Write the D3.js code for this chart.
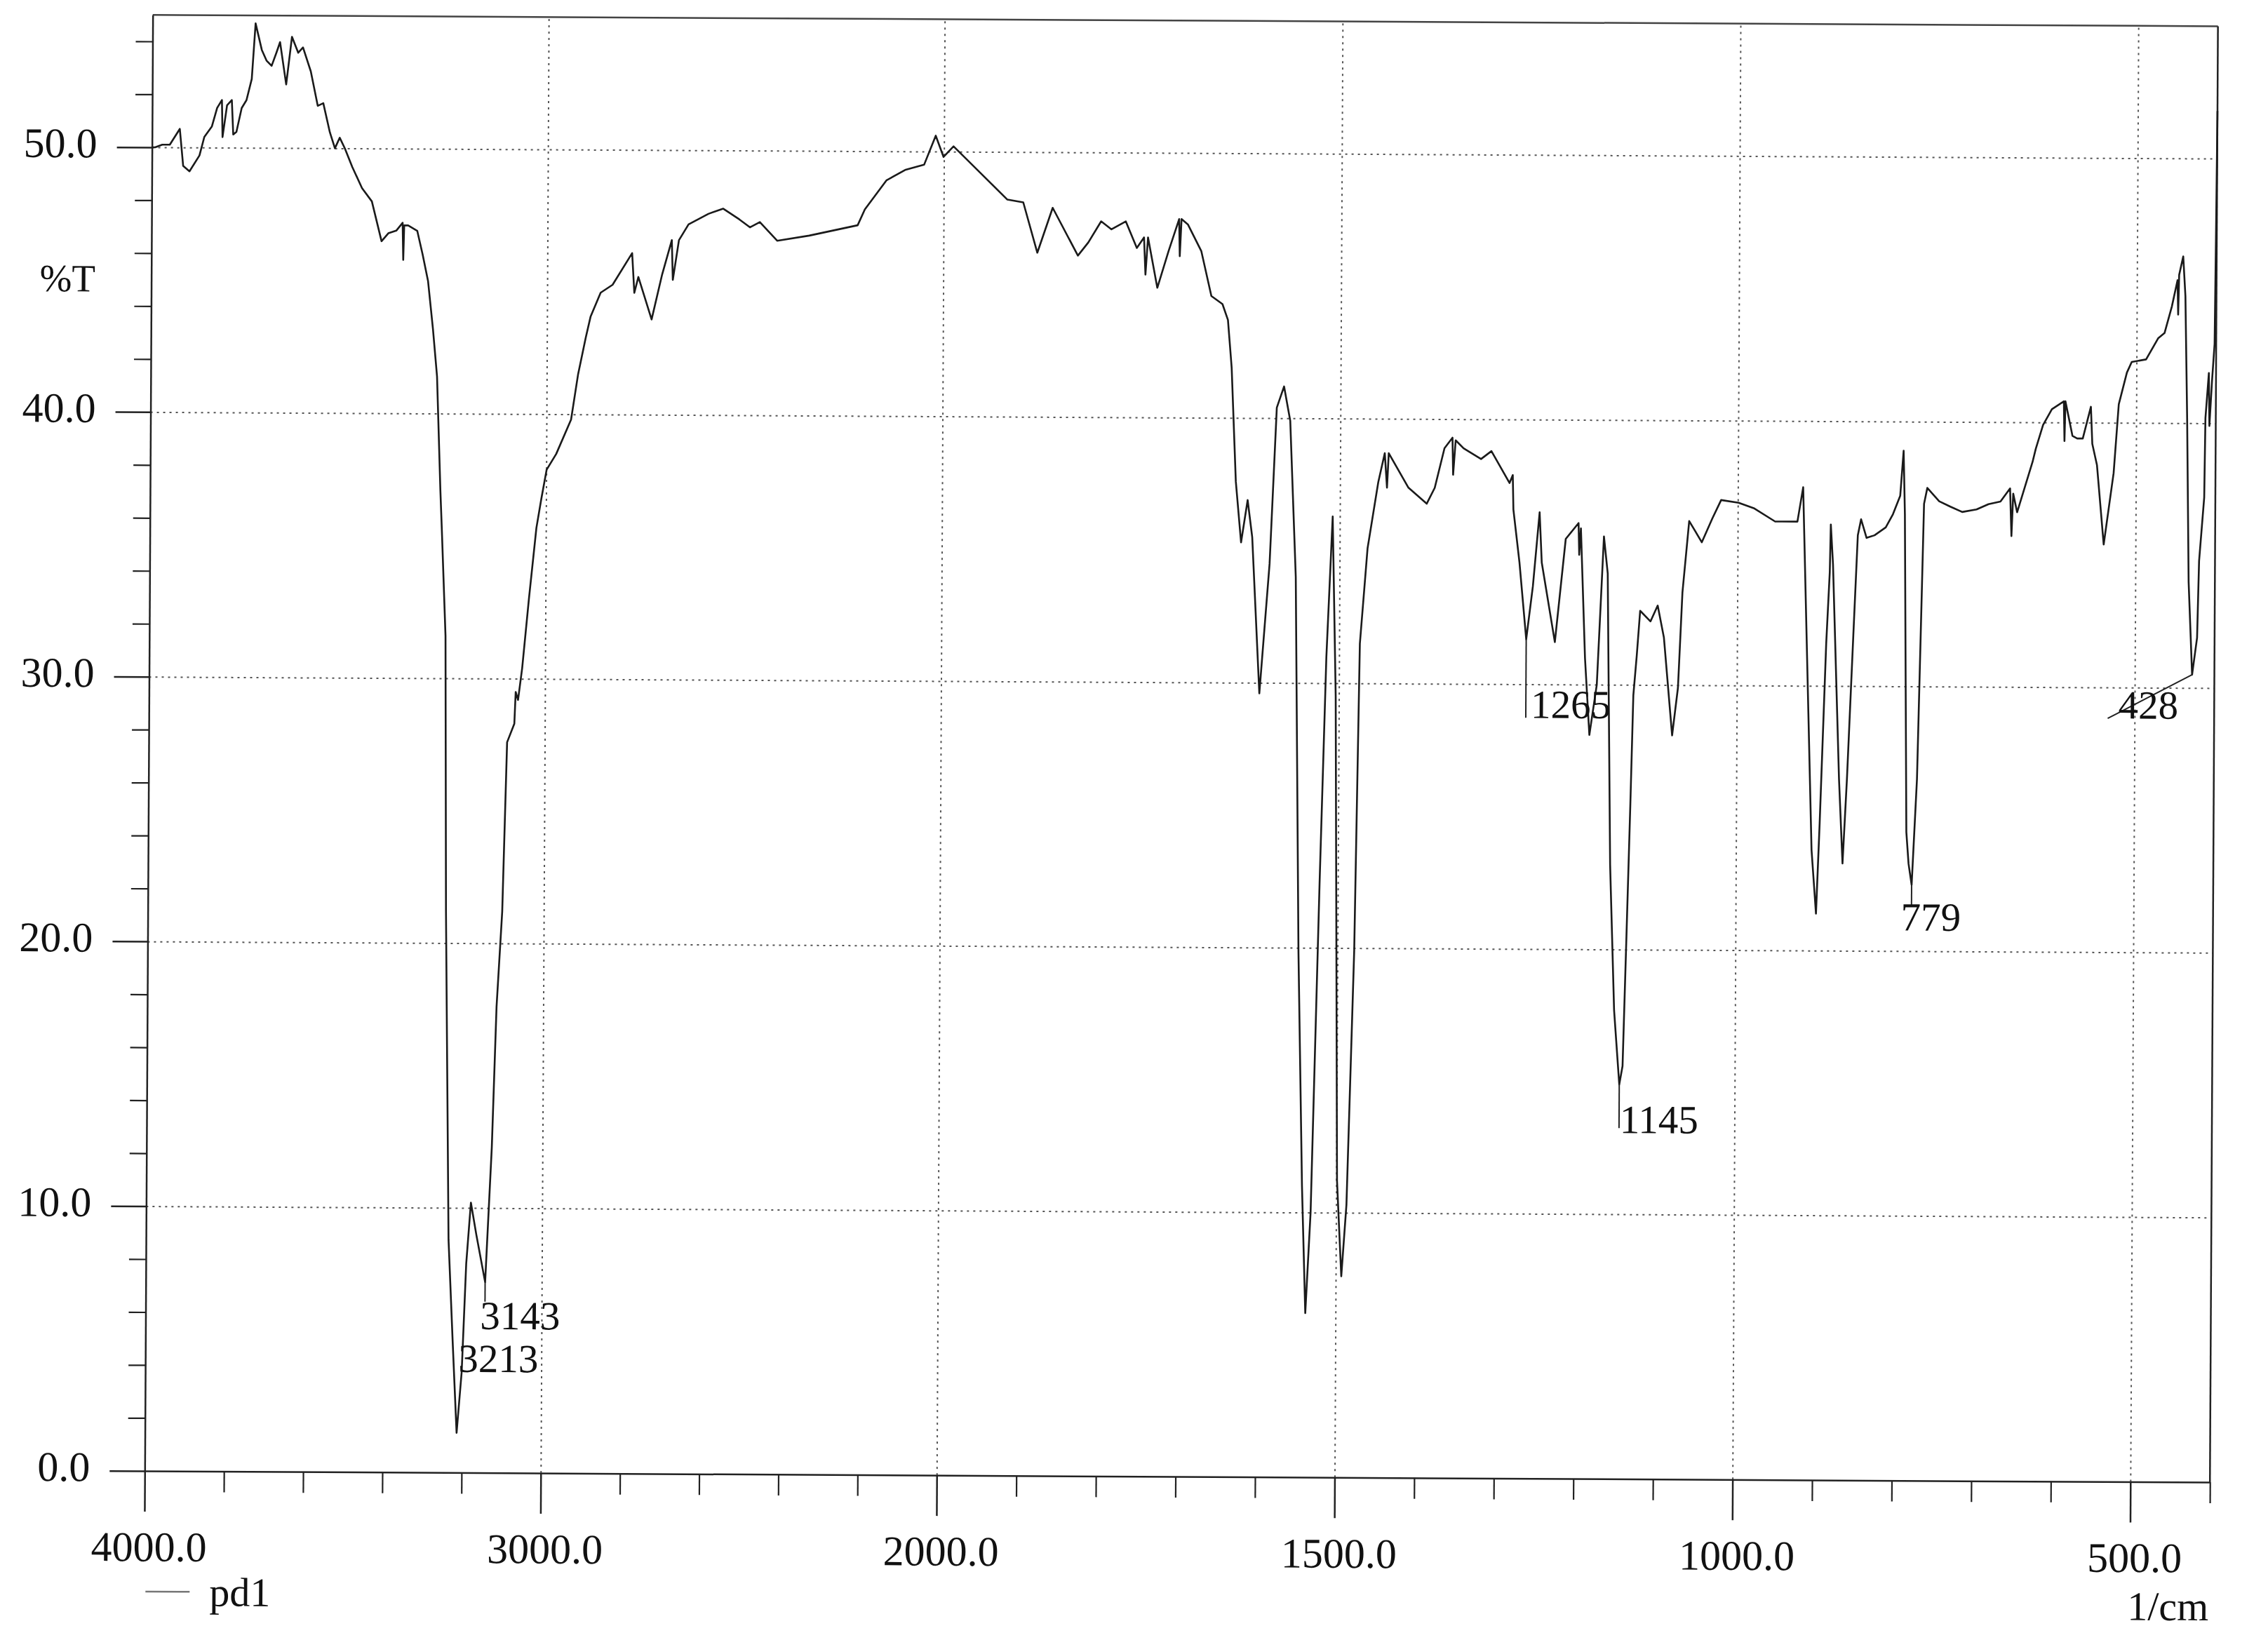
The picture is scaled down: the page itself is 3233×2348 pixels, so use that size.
<!DOCTYPE html>
<html><head><meta charset="utf-8">
<script src="https://cdn.jsdelivr.net/npm/d3@7"></script>
<style>
html,body{margin:0;padding:0;background:#fff;}
svg{display:block;}
text{font-family:"Liberation Serif","Times New Roman",serif;fill:#111;}
</style>
</head><body><div id="chart"></div>
<script>
// ---------------- data ----------------
const wavenumbers = [
4000,3992,3974,3955,3930,3921,3905,3880,3868,3849,3836,3824,3822,3811,3799,3795,3787,3774,3762,3749,
3740,3724,3712,3699,3687,3678,3662,3648,3632,3620,3600,3582,3568,3551,3538,3526,3513,3494,3469,3444,
3419,3402,3382,3366,3364,3362,3352,3329,3315,3301,3288,3277,3267,3263,3252,3247,3236,3224,3213,3201,
3191,3180,3166,3143,3128,3118,3105,3095,3077,3074,3068,3058,3042,3024,3012,2999,2975,2938,2921,2902,
2890,2865,2835,2786,2780,2770,2736,2710,2686,2683,2668,2644,2619,2594,2557,2516,2489,2464,2420,2339,
2217,2199,2145,2098,2050,2021,2001,1988,1954,1920,1900,1882,1863,1831,1818,1802,1789,1771,1757,1748,
1746,1743,1731,1717,1704,1703,1701,1693,1676,1663,1649,1642,1637,1631,1624,1616,1610,1600,1588,1580,
1571,1563,1555,1549,1543,1538,1532,1523,1516,1509,1504,1499,1493,1487,1479,1474,1465,1452,1444,1441,
1439,1414,1391,1381,1369,1359,1358,1355,1345,1323,1310,1287,1283,1282,1274,1265,1257,1249,1246,1229,
1216,1200,1199,1197,1191,1185,1176,1168,1163,1158,1152,1145,1141,1137,1133,1130,1126,1122,1109,1100,
1092,1081,1074,1069,1061,1053,1045,1032,1021,999,980,953,925,918,913,905,899,895,888,884,
883,880,871,866,861,854,849,845,838,828,814,805,796,792,790,786,783,779,773,768,
766,762,747,733,718,700,685,670,658,656,654,649,630,626,617,606,591,590,589,580,
574,567,557,555,549,540,528,522,512,506,488,473,465,456,449,448,447,442,439,436,
433,428,422,420,414,413,409,408,405,402,401,400];
const transmittance = [
50.0,50.0,50.1,50.1,50.7,49.3,49.1,49.7,50.4,50.8,51.5,51.8,50.4,51.6,51.8,50.5,50.6,51.5,51.8,52.6,
54.7,53.7,53.3,53.1,53.6,54.0,52.4,54.2,53.6,53.8,52.9,51.6,51.7,50.6,50.0,50.4,50.0,49.3,48.5,48.0,
46.5,46.8,46.9,47.2,45.8,47.1,47.1,46.9,46.0,45.0,43.2,41.4,37.1,35.7,31.6,21.2,8.8,4.9,1.5,3.8,
7.9,10.2,9.0,7.2,12.3,17.6,21.2,27.6,28.3,29.5,29.2,30.4,33.0,35.7,36.8,37.9,38.5,39.8,41.5,42.9,
43.7,44.6,44.9,46.1,44.6,45.2,43.6,45.3,46.6,45.1,46.6,47.2,47.4,47.6,47.8,47.4,47.1,47.3,46.6,46.8,
47.2,47.8,48.9,49.3,49.5,50.6,49.8,50.2,49.2,48.2,48.1,46.2,47.9,46.1,46.6,47.4,47.1,47.4,46.4,46.8,
45.4,46.8,44.9,46.3,47.5,46.1,47.5,47.3,46.3,44.6,44.3,43.7,41.9,37.6,35.3,36.9,35.5,29.6,34.5,40.4,
41.2,39.9,34.0,19.8,11.0,6.2,10.0,22.4,31.0,36.3,29.5,11.2,7.6,10.3,19.9,31.5,35.1,37.6,38.7,37.4,
38.7,37.4,36.8,37.4,38.9,39.3,37.9,39.2,38.9,38.5,38.8,37.6,37.9,36.6,34.6,31.7,33.7,36.5,34.6,31.6,
35.5,36.1,34.9,35.9,31.0,28.1,30.0,35.6,34.2,23.2,17.7,14.9,15.6,20.5,25.5,29.6,31.1,32.8,32.4,33.0,
31.8,28.1,29.9,33.5,36.2,35.8,35.4,36.3,37.0,36.9,36.7,36.2,36.2,37.5,32.2,23.8,21.4,24.8,31.6,34.3,
36.1,34.6,26.5,23.3,26.5,31.9,35.7,36.3,35.6,35.7,36.0,36.5,37.2,38.9,36.5,24.5,23.3,22.5,26.5,33.9,
36.9,37.5,37.0,36.8,36.6,36.7,36.9,37.0,37.5,35.7,37.3,36.6,38.5,39.0,39.9,40.5,40.8,39.3,40.8,39.5,
39.4,39.4,40.6,39.2,38.4,35.4,38.1,40.7,41.9,42.3,42.4,43.2,43.4,44.4,45.4,44.1,45.6,46.3,44.8,40.2,
34.0,30.5,31.9,34.8,37.2,40.2,41.9,39.9,41.6,43.0,47.0,51.8];

const peakWavenumbers = [3213, 3143, 1265, 1145, 779, 428];
const peakLabels = ["3213", "3143", "1265", "1145", "779", "428"];

const xMajorTicks = [4000, 3000, 2000, 1500, 1000, 500];
const xMajorLabels = ["4000.0", "3000.0", "2000.0", "1500.0", "1000.0", "500.0"];
const xMinorTicks = [3800, 3600, 3400, 3200, 2800, 2600, 2400, 2200, 1900, 1800, 1700, 1600,
                     1400, 1300, 1200, 1100, 900, 800, 700, 600, 400];
const xGridTicks = [3000, 2000, 1500, 1000, 500];
const yMajorTicks = [0, 10, 20, 30, 40, 50];
const yMajorLabels = ["0.0", "10.0", "20.0", "30.0", "40.0", "50.0"];
const yMinorTicks = [2, 4, 6, 8, 12, 14, 16, 18, 22, 24, 26, 28, 32, 34, 36, 38, 42, 44, 46, 48, 52, 54];
const yGridTicks = [10, 20, 30, 40, 50];

const yAxisTitle = "%T";
const xAxisTitle = "1/cm";
const seriesName = "pd1";

// ---------------- layout ----------------
const W = 3233, H = 2348;
const L = 212, R = 3156, T0 = 29.3, B = 2105;
const labelLayout = {
  "3213": {dx: 2,    dy: -87, line: null},
  "3143": {dx: -7,   dy: 67,  line: [0, 28]},
  "1265": {dx: 7,    dy: 112, line: [0, 112]},
  "1145": {dx: 1,    dy: 69,  line: [0, 62]},
  "779":  {dx: -15,  dy: 65,  line: [0, 30]},
  "428":  {dx: -105, dy: 63,  line: [-120, 63]}
};

const svg = d3.select("#chart").append("svg")
  .attr("width", W).attr("height", H)
  .attr("viewBox", `0 0 ${W} ${H}`);
svg.append("rect").attr("width", W).attr("height", H).attr("fill", "#fff");

// slight scan tilt
const root = svg.append("g").attr("transform", "rotate(0.315 1680 1060)");

const x = d3.scaleLinear().domain([4000, 2000, 400]).range([L, 1341, R]);
const y = d3.scaleLinear().domain([0, 55]).range([B, T0]);

function clean(g) {
  g.attr("font-size", null).attr("font-family", null);
  g.select(".domain").remove();
}

// grid
root.append("g").attr("transform", `translate(0,${B})`)
  .call(d3.axisBottom(x).tickValues(xGridTicks).tickSize(-(B - T0)).tickFormat(""))
  .call(clean)
  .selectAll("line").attr("stroke", "#555").attr("stroke-width", 2).attr("stroke-dasharray", "3 6");
root.append("g").attr("transform", `translate(${L},0)`)
  .call(d3.axisLeft(y).tickValues(yGridTicks).tickSize(-(R - L)).tickFormat(""))
  .call(clean)
  .selectAll("line").attr("stroke", "#555").attr("stroke-width", 2).attr("stroke-dasharray", "3 6");

// frame (top & right)
root.append("line").attr("x1", L).attr("x2", R).attr("y1", T0).attr("y2", T0)
  .attr("stroke", "#444").attr("stroke-width", 2.5);
root.append("line").attr("x1", R).attr("x2", R).attr("y1", T0).attr("y2", B)
  .attr("stroke", "#222").attr("stroke-width", 2.5);

// x axis
const xAx = root.append("g").attr("transform", `translate(0,${B})`)
  .call(d3.axisBottom(x).tickValues(xMajorTicks).tickSize(58).tickSizeOuter(0).tickPadding(28)
    .tickFormat((d, i) => xMajorLabels[i]));
xAx.attr("font-size", null).attr("font-family", null);
xAx.select(".domain").attr("stroke", "#222").attr("stroke-width", 2.5);
xAx.selectAll(".tick line").attr("stroke", "#222").attr("stroke-width", 2.5);
xAx.selectAll(".tick text").attr("x", 6).style("font-size", "60px").attr("fill", "#111");

root.append("g").attr("transform", `translate(0,${B})`)
  .call(d3.axisBottom(x).tickValues(xMinorTicks).tickSize(30).tickFormat(""))
  .call(clean)
  .selectAll("line").attr("stroke", "#222").attr("stroke-width", 2.2);

// y axis
const yAx = root.append("g").attr("transform", `translate(${L},0)`)
  .call(d3.axisLeft(y).tickValues(yMajorTicks).tickSize(50).tickSizeOuter(0).tickPadding(28)
    .tickFormat((d, i) => yMajorLabels[i]));
yAx.attr("font-size", null).attr("font-family", null);
yAx.select(".domain").attr("stroke", "#222").attr("stroke-width", 2.5);
yAx.selectAll(".tick line").attr("stroke", "#222").attr("stroke-width", 2.5);
yAx.selectAll(".tick text").attr("dy", "0.24em").style("font-size", "60px").attr("fill", "#111");

root.append("g").attr("transform", `translate(${L},0)`)
  .call(d3.axisLeft(y).tickValues(yMinorTicks).tickSize(24).tickFormat(""))
  .call(clean)
  .selectAll("line").attr("stroke", "#222").attr("stroke-width", 2.2);

// titles
root.append("text").attr("x", 53).attr("y", 424).style("font-size", "55px").text(yAxisTitle);
root.append("text").attr("x", 3155).attr("y", 2302).attr("text-anchor", "end")
  .style("font-size", "58px").text(xAxisTitle);

// spectrum
const data = wavenumbers.map((w, i) => [w, transmittance[i]]);
root.append("path").datum(data)
  .attr("fill", "none").attr("stroke", "#1a1a1a").attr("stroke-width", 2.6)
  .attr("stroke-linejoin", "round")
  .attr("d", d3.line().x(d => x(d[0])).y(d => y(d[1])));

// peak labels
peakWavenumbers.forEach((pw, i) => {
  const idx = wavenumbers.indexOf(pw);
  const px = x(pw), py = y(transmittance[idx]);
  const lay = labelLayout[peakLabels[i]];
  if (lay.line) {
    root.append("line").attr("x1", px).attr("y1", py)
      .attr("x2", px + lay.line[0]).attr("y2", py + lay.line[1])
      .attr("stroke", "#222").attr("stroke-width", 2);
  }
  root.append("text").attr("x", px + lay.dx).attr("y", py + lay.dy)
    .style("font-size", "57px").text(peakLabels[i]);
});

// legend
root.append("line").attr("x1", 214).attr("x2", 277).attr("y1", 2277).attr("y2", 2277)
  .attr("stroke", "#777").attr("stroke-width", 2.5);
root.append("text").attr("x", 305).attr("y", 2297).style("font-size", "58px").text(seriesName);
</script>
</body></html>
